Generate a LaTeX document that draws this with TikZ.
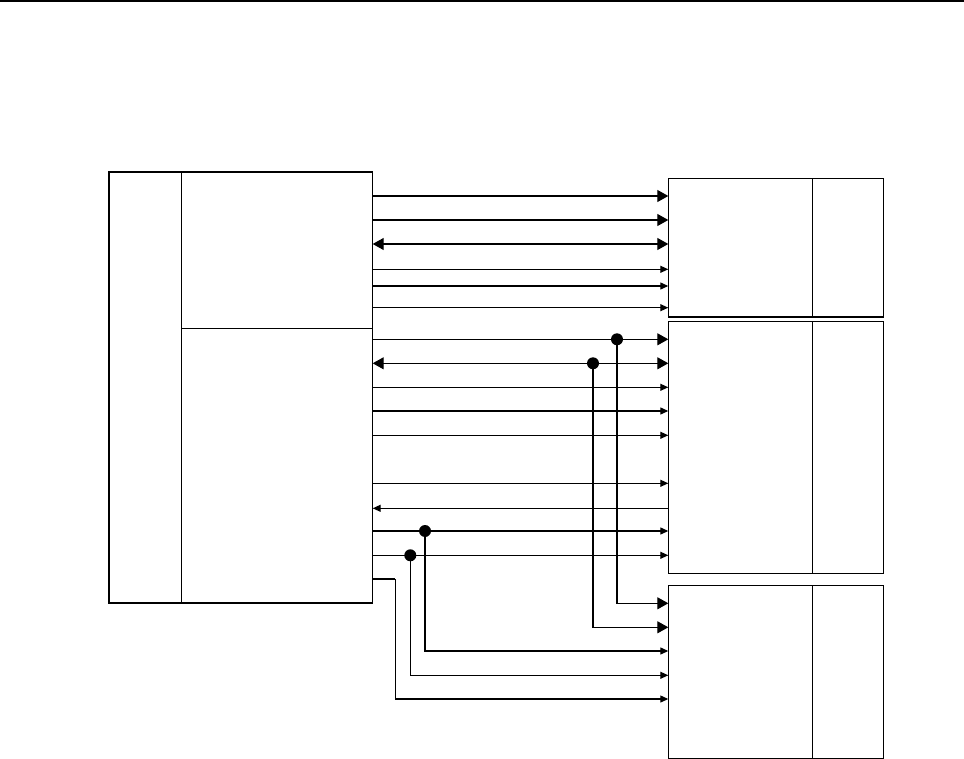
\documentclass[tikz,border=0pt]{standalone}
\usetikzlibrary{arrows.meta}
\begin{document}
\begin{tikzpicture}[x=1pt,y=-1pt, line width=1.2pt,
  box/.style={draw, inner sep=0pt, outer sep=0pt, anchor=north west},
  big/.style={-{Triangle[length=11pt,width=12pt]}},
  bigboth/.style={{Triangle[length=11pt,width=12pt]}-{Triangle[length=11pt,width=12pt]}},
  small/.style={-{Triangle[length=8pt,width=7pt]}}]
\useasboundingbox (0,0) rectangle (964,759);
\draw[line width=2pt] (0,1) -- (964,1);
% left block
\node[box, minimum width=72.3pt, minimum height=431pt] (L0) at (109,172) {};
\node[box, minimum width=191.4pt, minimum height=156.3pt] (LA) at (181.3,172) {};
\node[box, minimum width=191.4pt, minimum height=274.7pt] (LB) at (181.3,328.3) {};
% right blocks
\node[box, minimum width=144pt, minimum height=138.7pt] (R1a) at (668.3,178.3) {};
\node[box, minimum width=71pt, minimum height=138.7pt] (R1b) at (812.3,178.3) {};
\node[box, minimum width=144pt, minimum height=251.6pt] (R2a) at (668.3,321.7) {};
\node[box, minimum width=71pt, minimum height=251.6pt] (R2b) at (812.3,321.7) {};
\node[box, minimum width=144pt, minimum height=173pt] (R3a) at (668.3,585.3) {};
\node[box, minimum width=71pt, minimum height=173pt] (R3b) at (812.3,585.3) {};
% signals to R1
\draw[big] (LA.east |- 0,196) -- (R1a.west |- 0,196);
\draw[big] (LA.east |- 0,220) -- (R1a.west |- 0,220);
\draw[bigboth] (LA.east |- 0,244) -- (R1a.west |- 0,244);
\draw[small] (LA.east |- 0,269.3) -- (R1a.west |- 0,269.3);
\draw[small] (LA.east |- 0,286) -- (R1a.west |- 0,286);
\draw[small] (LA.east |- 0,307.7) -- (R1a.west |- 0,307.7);
% signals to R2
\draw[big] (LB.east |- 0,339.3) -- (R2a.west |- 0,339.3);
\draw[bigboth] (LB.east |- 0,363.3) -- (R2a.west |- 0,363.3);
\draw[small] (LB.east |- 0,387.3) -- (R2a.west |- 0,387.3);
\draw[small] (LB.east |- 0,411) -- (R2a.west |- 0,411);
\draw[small] (LB.east |- 0,435.3) -- (R2a.west |- 0,435.3);
\draw[small] (LB.east |- 0,483.3) -- (R2a.west |- 0,483.3);
\draw[small] (R2a.west |- 0,508.3) -- (LB.east |- 0,508.3);
\draw[small] (LB.east |- 0,531) -- (R2a.west |- 0,531);
\draw[small] (LB.east |- 0,555.3) -- (R2a.west |- 0,555.3);
% junctions
\coordinate (j1) at (617,339.3);
\coordinate (j2) at (593,363.3);
\coordinate (j3) at (425,531);
\coordinate (j4) at (410.3,555.3);
\coordinate (k5) at (395.3,579);
\fill (j1) circle[radius=6pt];
\fill (j2) circle[radius=6pt];
\fill (j3) circle[radius=6pt];
\fill (j4) circle[radius=6pt];
% signals to R3
\draw[big] (j1) |- (R3a.west |- 0,603.3);
\draw[big] (j2) |- (R3a.west |- 0,627.3);
\draw[small] (j3) |- (R3a.west |- 0,651);
\draw[small] (j4) |- (R3a.west |- 0,675.3);
\draw (LB.east |- k5) -- (k5);
\draw[small] (k5) |- (R3a.west |- 0,699);
\end{tikzpicture}
\end{document}
